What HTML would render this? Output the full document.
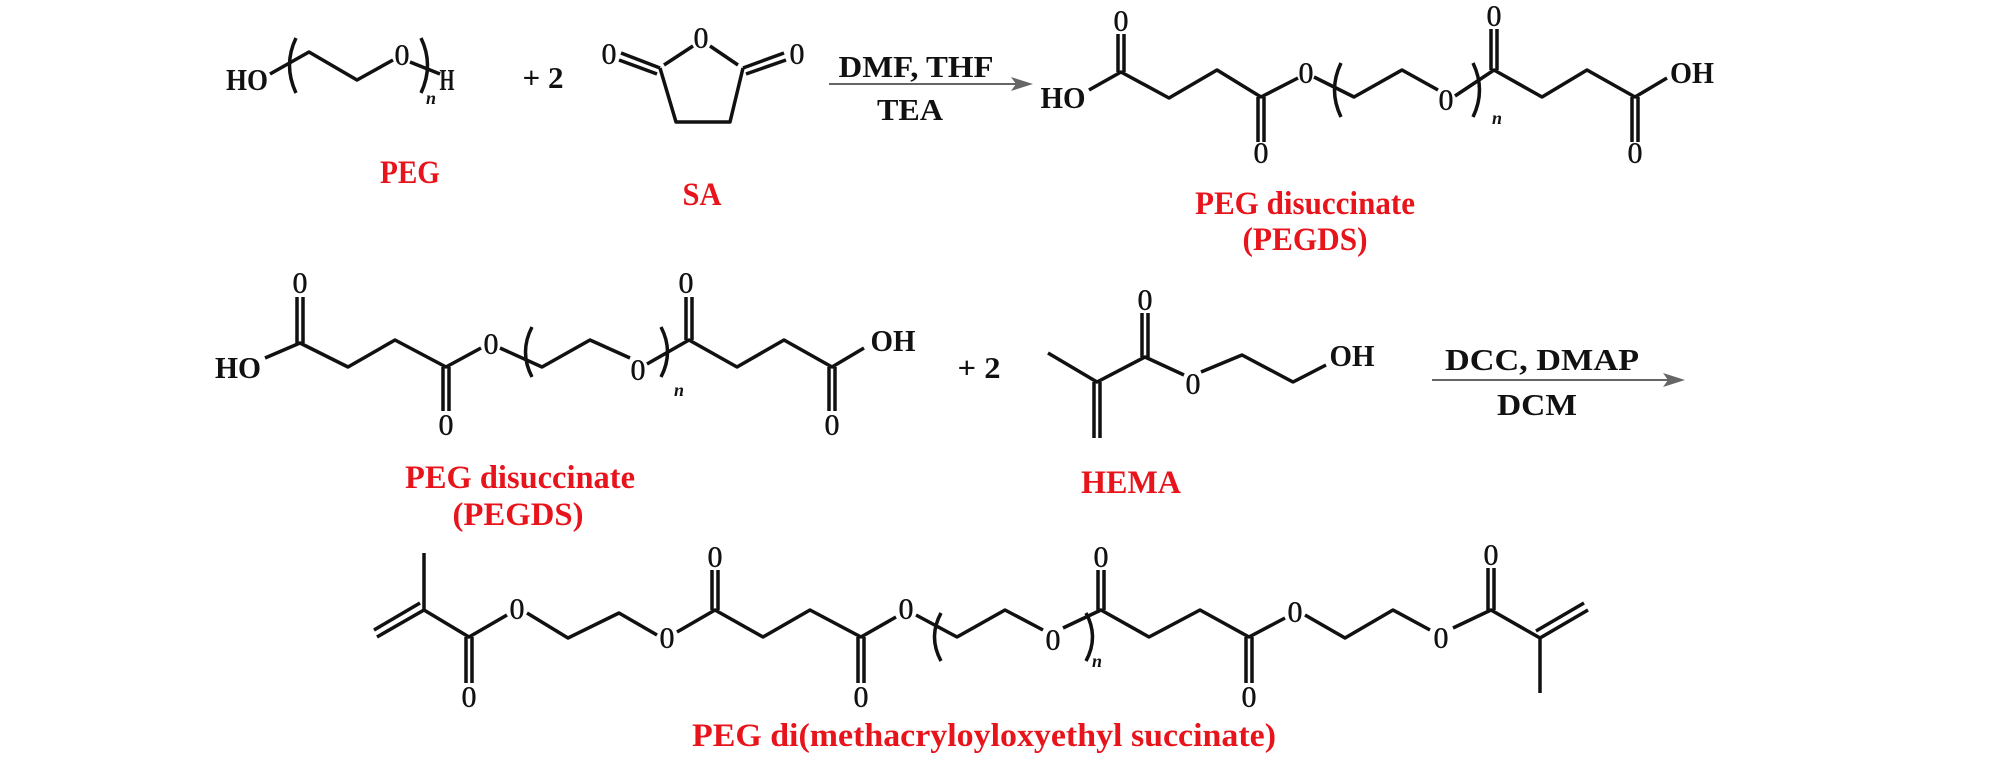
<!DOCTYPE html>
<html><head><meta charset="utf-8"><style>html,body{margin:0;padding:0;background:#fff}svg{display:block}</style></head><body>
<svg width="2011" height="757" viewBox="0 0 2011 757" xmlns="http://www.w3.org/2000/svg">
<rect width="2011" height="757" fill="#fff"/>
<g font-family="Liberation Serif, serif" font-weight="bold" font-size="31" fill="#111" lengthAdjust="spacingAndGlyphs">
<g stroke="#111" stroke-width="3.5" fill="none" stroke-linejoin="round">
<polyline points="270,74 309,52 357,80 393,60"/>
<polyline points="410,62 440,74"/>
<path d="M296,38 Q283,65 296,93"/><path d="M421,38 Q434,65 421,93"/>
<line x1="664" y1="65" x2="693" y2="46"/><line x1="738" y1="65" x2="710" y2="46"/>
<polyline points="660,68 676,122 730,122 743,68"/>
<line x1="660" y1="68" x2="621" y2="53"/><line x1="657" y1="74" x2="619" y2="60"/>
<line x1="743" y1="68" x2="784" y2="53"/><line x1="746" y1="74" x2="786" y2="60"/>
<polyline points="1089,90 1121,72 1169,98 1217,70 1261,97 1298,78"/>
<line x1="1118" y1="72" x2="1118" y2="34"/><line x1="1124" y1="72" x2="1124" y2="34"/>
<line x1="1258" y1="97" x2="1258" y2="142"/><line x1="1264" y1="97" x2="1264" y2="142"/>
<polyline points="1314,77 1354,97 1402,70 1438,90"/>
<polyline points="1455,96 1494,70 1542,97 1587,70 1635,97 1667,78"/>
<line x1="1491" y1="70" x2="1491" y2="29"/><line x1="1497" y1="70" x2="1497" y2="29"/>
<line x1="1632" y1="97" x2="1632" y2="142"/><line x1="1638" y1="97" x2="1638" y2="142"/>
<path d="M1341,63 Q1328,90 1341,117"/><path d="M1473,63 Q1486,90 1473,117"/>
<polyline points="265,358 300,343 348,367 395,340 446,367 481,348"/>
<line x1="297" y1="343" x2="297" y2="297"/><line x1="303" y1="343" x2="303" y2="297"/>
<line x1="443" y1="367" x2="443" y2="411"/><line x1="449" y1="367" x2="449" y2="411"/>
<polyline points="500,348 542,367 590,340 630,358"/>
<polyline points="647,364 689,340 737,367 784,340 832,367 864,348"/>
<line x1="686" y1="340" x2="686" y2="297"/><line x1="692" y1="340" x2="692" y2="297"/>
<line x1="829" y1="367" x2="829" y2="411"/><line x1="835" y1="367" x2="835" y2="411"/>
<path d="M532,327 Q519,352 532,377"/><path d="M661,327 Q674,352 661,377"/>
<polyline points="1048,353 1097,382 1145,357 1184,375"/>
<line x1="1094" y1="382" x2="1094" y2="438"/><line x1="1100" y1="382" x2="1100" y2="438"/>
<line x1="1142" y1="357" x2="1142" y2="313"/><line x1="1148" y1="357" x2="1148" y2="313"/>
<polyline points="1201,372 1242,355 1293,382 1326,365"/>
<line x1="424" y1="553" x2="424" y2="610"/>
<line x1="424" y1="610" x2="377" y2="637"/><line x1="420" y1="603" x2="374" y2="630"/>
<polyline points="424,610 469,637 507,615"/>
<line x1="466" y1="637" x2="466" y2="683"/><line x1="472" y1="637" x2="472" y2="683"/>
<polyline points="527,613 568,638 619,613 657,635"/>
<polyline points="677,632 715,610 763,637 810,610 861,637 896,617"/>
<line x1="712" y1="610" x2="712" y2="570"/><line x1="718" y1="610" x2="718" y2="570"/>
<line x1="858" y1="637" x2="858" y2="683"/><line x1="864" y1="637" x2="864" y2="683"/>
<polyline points="916,615 957,637 1005,610 1043,630"/>
<polyline points="1063,628 1101,610 1149,637 1200,610 1249,637 1285,618"/>
<line x1="1098" y1="610" x2="1098" y2="570"/><line x1="1104" y1="610" x2="1104" y2="570"/>
<line x1="1246" y1="637" x2="1246" y2="683"/><line x1="1252" y1="637" x2="1252" y2="683"/>
<polyline points="1305,615 1345,638 1393,610 1430,630"/>
<polyline points="1453,628 1491,610 1540,638 1540,693"/>
<line x1="1488" y1="610" x2="1488" y2="568"/><line x1="1494" y1="610" x2="1494" y2="568"/>
<line x1="1540" y1="638" x2="1588" y2="610"/><line x1="1536" y1="631" x2="1584" y2="603"/>
<path d="M941,613 Q928,637 941,661"/><path d="M1086,613 Q1099,637 1086,661"/>
</g>
<line x1="829" y1="84" x2="1020" y2="84" stroke="#666" stroke-width="2"/>
<polygon points="1033,84 1011,77 1016,84 1011,91" fill="#666"/>
<line x1="1432" y1="380" x2="1672" y2="380" stroke="#666" stroke-width="2"/>
<polygon points="1685,380 1663,373 1668,380 1663,387" fill="#666"/>
<g text-anchor="middle">
<text x="247" y="90" textLength="42" lengthAdjust="spacingAndGlyphs">HO</text>
<text x="402" y="65" textLength="15" lengthAdjust="spacingAndGlyphs">O</text>
<text x="447" y="90" textLength="15" lengthAdjust="spacingAndGlyphs">H</text>
<text x="431" y="104" font-size="18" font-style="italic">n</text>
<text x="543" y="88" textLength="41" lengthAdjust="spacingAndGlyphs">+ 2</text>
<text x="701" y="48" textLength="15" lengthAdjust="spacingAndGlyphs">O</text>
<text x="609" y="64" textLength="15" lengthAdjust="spacingAndGlyphs">O</text>
<text x="797" y="64" textLength="15" lengthAdjust="spacingAndGlyphs">O</text>
<text x="916" y="77" textLength="155" lengthAdjust="spacingAndGlyphs">DMF, THF</text>
<text x="910" y="120" textLength="66" lengthAdjust="spacingAndGlyphs">TEA</text>
<text x="1063" y="108" textLength="45" lengthAdjust="spacingAndGlyphs">HO</text>
<text x="1121" y="31" textLength="15" lengthAdjust="spacingAndGlyphs">O</text>
<text x="1261" y="163" textLength="15" lengthAdjust="spacingAndGlyphs">O</text>
<text x="1306" y="83" textLength="15" lengthAdjust="spacingAndGlyphs">O</text>
<text x="1446" y="110" textLength="15" lengthAdjust="spacingAndGlyphs">O</text>
<text x="1497" y="124" font-size="18" font-style="italic">n</text>
<text x="1494" y="26" textLength="15" lengthAdjust="spacingAndGlyphs">O</text>
<text x="1635" y="163" textLength="15" lengthAdjust="spacingAndGlyphs">O</text>
<text x="1692" y="83" textLength="44" lengthAdjust="spacingAndGlyphs">OH</text>
<text x="238" y="378" textLength="46" lengthAdjust="spacingAndGlyphs">HO</text>
<text x="300" y="293" textLength="15" lengthAdjust="spacingAndGlyphs">O</text>
<text x="446" y="435" textLength="15" lengthAdjust="spacingAndGlyphs">O</text>
<text x="491" y="354" textLength="15" lengthAdjust="spacingAndGlyphs">O</text>
<text x="638" y="380" textLength="15" lengthAdjust="spacingAndGlyphs">O</text>
<text x="679" y="396" font-size="18" font-style="italic">n</text>
<text x="686" y="293" textLength="15" lengthAdjust="spacingAndGlyphs">O</text>
<text x="832" y="435" textLength="15" lengthAdjust="spacingAndGlyphs">O</text>
<text x="893" y="351" textLength="45" lengthAdjust="spacingAndGlyphs">OH</text>
<text x="979" y="378" textLength="43" lengthAdjust="spacingAndGlyphs">+ 2</text>
<text x="1145" y="310" textLength="15" lengthAdjust="spacingAndGlyphs">O</text>
<text x="1193" y="394" textLength="15" lengthAdjust="spacingAndGlyphs">O</text>
<text x="1352" y="366" textLength="45" lengthAdjust="spacingAndGlyphs">OH</text>
<text x="1542" y="370" textLength="194" lengthAdjust="spacingAndGlyphs">DCC, DMAP</text>
<text x="1537" y="415" textLength="80" lengthAdjust="spacingAndGlyphs">DCM</text>
<text x="469" y="707" textLength="15" lengthAdjust="spacingAndGlyphs">O</text>
<text x="517" y="619" textLength="15" lengthAdjust="spacingAndGlyphs">O</text>
<text x="667" y="648" textLength="15" lengthAdjust="spacingAndGlyphs">O</text>
<text x="715" y="567" textLength="15" lengthAdjust="spacingAndGlyphs">O</text>
<text x="861" y="707" textLength="15" lengthAdjust="spacingAndGlyphs">O</text>
<text x="906" y="619" textLength="15" lengthAdjust="spacingAndGlyphs">O</text>
<text x="1053" y="650" textLength="15" lengthAdjust="spacingAndGlyphs">O</text>
<text x="1097" y="667" font-size="18" font-style="italic">n</text>
<text x="1101" y="567" textLength="15" lengthAdjust="spacingAndGlyphs">O</text>
<text x="1249" y="707" textLength="15" lengthAdjust="spacingAndGlyphs">O</text>
<text x="1295" y="622" textLength="15" lengthAdjust="spacingAndGlyphs">O</text>
<text x="1441" y="648" textLength="15" lengthAdjust="spacingAndGlyphs">O</text>
<text x="1491" y="565" textLength="15" lengthAdjust="spacingAndGlyphs">O</text>
</g>
<g fill="#e8141c" font-size="33" text-anchor="middle">
<text x="410" y="183" textLength="60" lengthAdjust="spacingAndGlyphs">PEG</text>
<text x="702" y="205" textLength="39" lengthAdjust="spacingAndGlyphs">SA</text>
<text x="1305" y="214" textLength="220" lengthAdjust="spacingAndGlyphs">PEG disuccinate</text>
<text x="1305" y="250" textLength="125" lengthAdjust="spacingAndGlyphs">(PEGDS)</text>
<text x="520" y="488" textLength="230" lengthAdjust="spacingAndGlyphs">PEG disuccinate</text>
<text x="518" y="525" textLength="131" lengthAdjust="spacingAndGlyphs">(PEGDS)</text>
<text x="1131" y="493" textLength="100" lengthAdjust="spacingAndGlyphs">HEMA</text>
<text x="984" y="746" textLength="584" lengthAdjust="spacingAndGlyphs">PEG di(methacryloyloxyethyl succinate)</text>
</g>
</g>
</svg>
</body></html>
